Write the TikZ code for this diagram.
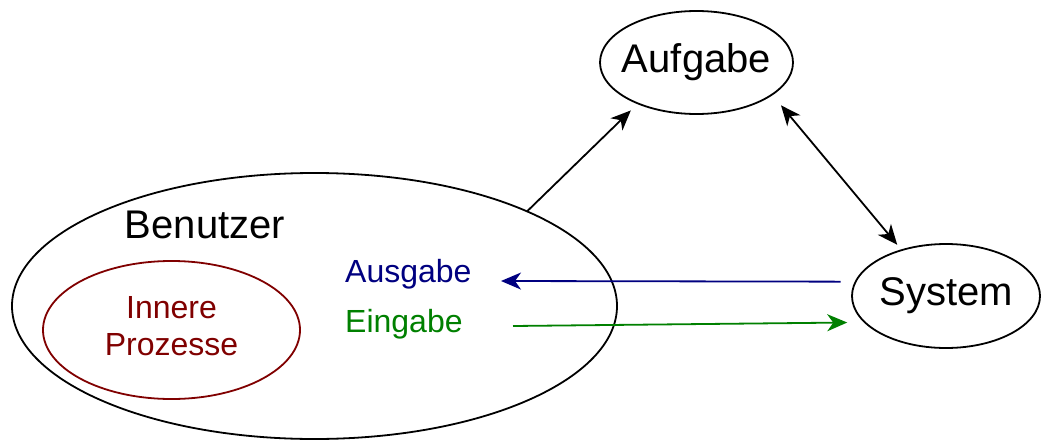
\documentclass[tikz,border=0pt]{standalone}
\usepackage{fontspec}
\setmainfont{Liberation Sans}
\usetikzlibrary{shapes.geometric,arrows.meta}
\definecolor{navyc}{RGB}{0,0,128}
\definecolor{redc}{RGB}{128,0,0}
\definecolor{greenc}{RGB}{0,128,0}
\begin{document}
\begin{tikzpicture}[x=1pt,y=-1pt,
  oval/.style={ellipse,draw,line width=1.8pt,inner sep=0pt,outer sep=0pt},
  bigtxt/.style={font=\fontsize{40}{48}\selectfont,inner sep=0pt},
  smalltxt/.style={font=\fontsize{32}{37}\selectfont,inner sep=0pt},
  arr/.style={line width=1.8pt,-{Stealth[length=20pt,width=17pt,inset=6pt]}},
  darr/.style={line width=1.8pt,{Stealth[length=20pt,width=17pt,inset=6pt]}-{Stealth[length=20pt,width=17pt,inset=6pt]}},
]
\useasboundingbox (0,0) rectangle (1041,439);
% ellipses
\node[oval,minimum width=193pt,minimum height=103pt] (auf) at (696.5,62.5) {};
\node[oval,minimum width=188pt,minimum height=104pt] (sys) at (946,296) {};
\node[oval,minimum width=605pt,minimum height=266pt] (ben) at (314.5,306) {};
\node[oval,draw=redc,minimum width=257pt,minimum height=138pt] (inn) at (171.5,330) {};
% texts
\node[bigtxt] (aufT) at (auf) {Aufgabe};
\node[bigtxt] (sysT) at (sys) {System};
\node[bigtxt,anchor=base] (benT) at (205,238) {Benutzer};
\node[smalltxt,text=redc,align=center,anchor=north] (innT) at (171.5,296) {Innere\\Prozesse};
\node[smalltxt,text=navyc,anchor=base west] (ausT) at (345,282) {Ausgabe};
\node[smalltxt,text=greenc,anchor=base west] (einT) at (345,332) {Eingabe};
% connectors
\coordinate (ausE) at (501,281);
\coordinate (einS) at (513,326);
\draw[arr,shorten >=10pt] (ben.24.4) -- (auf.215.1);
\draw[darr,shorten <=14pt,shorten >=7pt] (auf.337.6) -- (sys.134.4);
\draw[arr,navyc,shorten <=15pt] (sys.171.9) -- (ausE);
\draw[arr,greenc,shorten >=17.7pt] (einS) -- (sys.198.6);
\end{tikzpicture}
\end{document}
